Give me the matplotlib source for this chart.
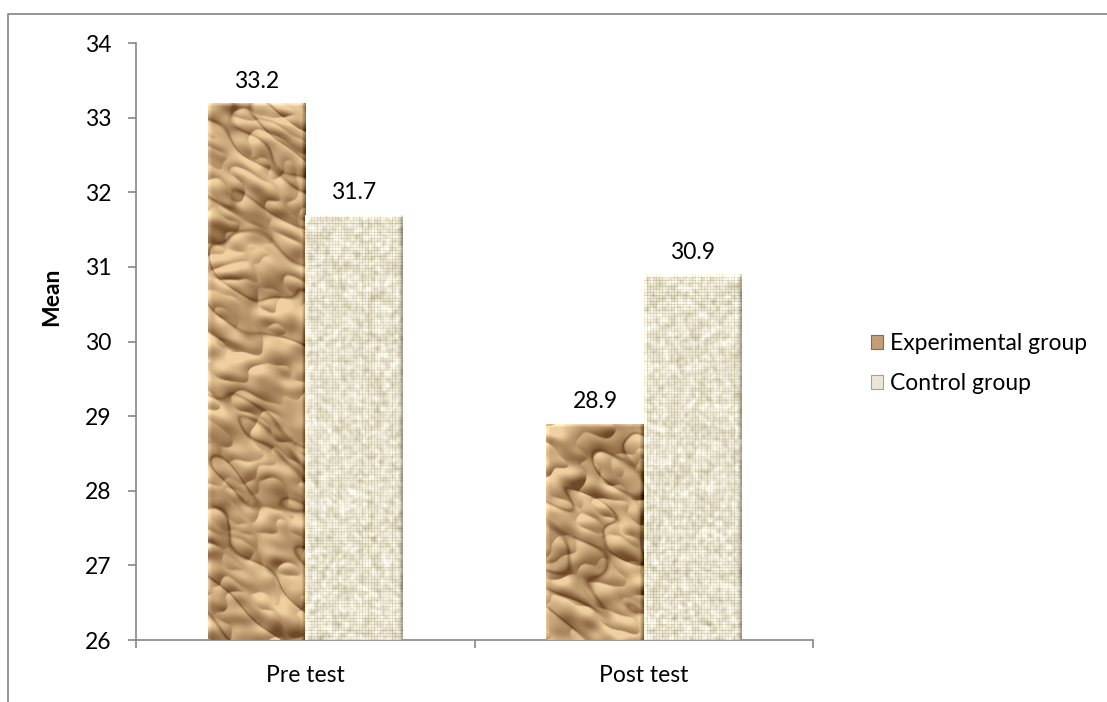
import matplotlib.pyplot as plt
import numpy as np
from matplotlib.lines import Line2D
from matplotlib.patches import Patch

categories = ["Pre test", "Post test"]
series_names = ["Experimental group", "Control group"]
experimental = [33.2, 28.9]
control = [31.7, 30.9]

Y_MIN, Y_MAX = 26, 34
AXIS_GRAY = "#868686"
FS = 16.5

plt.rcParams["font.family"] = ["Lato", "DejaVu Sans"]


def smooth_noise(h, w, scale, seed, stretch=1.0, angle=0.0):
    # gaussian-filtered white noise (optionally elongated along `angle`), normalised
    rng = np.random.default_rng(seed)
    n = rng.standard_normal((h, w))
    fy = np.fft.fftfreq(h)[:, None]
    fx = np.fft.fftfreq(w)[None, :]
    c, s = np.cos(angle), np.sin(angle)
    fu = fx * c + fy * s
    fv = -fx * s + fy * c
    filt = np.exp(-((fu * stretch) ** 2 + fv ** 2) * (2 * np.pi * scale) ** 2 / 2)
    out = np.real(np.fft.ifft2(np.fft.fft2(n) * filt))
    return (out - out.mean()) / out.std()


def bevel(img, w_edge=4):
    h, w, _ = img.shape
    xs = np.arange(w)[None, :]
    ys = np.arange(h)[:, None]
    light = np.zeros((h, w))
    light += np.where(xs < w_edge, 0.12 * (1 - xs / w_edge), 0)
    light -= np.where(xs > w - 1 - w_edge, 0.28 * (1 - (w - 1 - xs) / w_edge), 0)
    light += np.where(ys < w_edge, 0.22 * (1 - ys / w_edge), 0)
    img = img + light[..., None]
    return np.clip(img, 0, 1)


def paper_texture(h, w, seed):
    # crumpled brown paper: diagonal creases from folded noise, lit from the top left
    pad = 40
    H, W = h + 2 * pad, w + 2 * pad
    ang = np.deg2rad(35)
    crease = smooth_noise(H, W, 9, seed, stretch=2.2, angle=ang)
    height = (-1.0 * np.abs(crease)
              - 0.5 * np.abs(smooth_noise(H, W, 5, seed + 1, stretch=1.6, angle=ang))
              + 0.9 * smooth_noise(H, W, 26, seed + 2))
    gy, gx = np.gradient(height)
    shade = 0.64 + 3.2 * (-gx * 0.5 - gy * 0.85)
    shade -= 0.35 * np.exp(-(crease / 0.15) ** 2)
    shade = np.clip(shade, 0, 1)[pad:pad + h, pad:pad + w]
    dark = np.array([112, 74, 40]) / 255
    lite = np.array([240, 208, 160]) / 255
    img = dark + (lite - dark) * shade[..., None]
    return bevel(img)


def linen_texture(h, w, seed):
    # loose woven cloth: pale base with darker threads every few pixels
    rng = np.random.default_rng(seed)
    base = np.array([240, 235, 218]) / 255
    img = np.ones((h, w, 3)) * base
    rows = (np.arange(h) % 3 == 0)[:, None] * rng.uniform(0.03, 0.15, (h, 1))
    cols = (np.arange(w) % 3 == 0)[None, :] * rng.uniform(0.03, 0.15, (1, w))
    speck = 0.05 * smooth_noise(h, w, 1.5, seed + 5)
    tint = np.array([1.0, 1.05, 1.35])
    img = img - (rows + cols + speck)[..., None] * tint * 0.7
    return bevel(np.clip(img, 0, 1))


fig = plt.figure(figsize=(11.07, 7.02), dpi=100)
ax = fig.add_axes([0.1229, 0.0883, 0.6116, 0.8504])

x = np.arange(len(categories))
width = 0.288
textures = [paper_texture, linen_texture]
fallback = ["#c29f74", "#ece6d4"]

for s, values in enumerate([experimental, control]):
    offs = (s - 0.5) * width
    bars = ax.bar(x + offs, [v - Y_MIN for v in values], width, bottom=Y_MIN,
                  color=fallback[s], edgecolor="none", zorder=2)
    for i, (bar, v) in enumerate(zip(bars, values)):
        h_px = max(int((v - Y_MIN) * 75), 10)
        tex = textures[s](h_px, 98, seed=10 * s + i + 3)
        x0 = bar.get_x()
        im = ax.imshow(tex, extent=(x0, x0 + width, Y_MIN, v), aspect="auto",
                       interpolation="bilinear", zorder=3, origin="upper")
        im.set_clip_path(bar)
        ax.text(x0 + width / 2, v + 0.15, f"{v:.1f}", ha="center", va="bottom",
                fontsize=FS, color="black")

ax.set_xlim(-0.5, len(categories) - 0.5)
ax.set_ylim(Y_MIN, Y_MAX)
ax.set_yticks(range(Y_MIN, Y_MAX + 1))
ax.set_xticks(x)
ax.set_xticklabels(categories)
ax.set_xticks(np.arange(len(categories) + 1) - 0.5, minor=True)
ax.tick_params(axis="x", which="major", length=0, pad=18, labelsize=FS)
ax.tick_params(axis="x", which="minor", length=6, color=AXIS_GRAY, width=1.2)
ax.tick_params(axis="y", length=6, color=AXIS_GRAY, width=1.2, labelsize=FS, pad=12)
for side in ("top", "right"):
    ax.spines[side].set_visible(False)
for side in ("left", "bottom"):
    ax.spines[side].set_color(AXIS_GRAY)
    ax.spines[side].set_linewidth(1.2)
ax.set_ylabel("Mean", fontsize=FS, fontweight="bold", va="center")
ax.yaxis.set_label_coords(-0.124, 0.575)

handles = [Patch(facecolor=fallback[0], edgecolor="#8a6a48", linewidth=0.8),
           Patch(facecolor=fallback[1], edgecolor="#a9a290", linewidth=0.8)]
fig.legend(handles, series_names, loc="center left", bbox_to_anchor=(0.768, 0.482),
           frameon=False, fontsize=FS, handlelength=0.55, handleheight=0.55,
           handletextpad=0.3, labelspacing=0.85)

# outer chart border, cut off at the right and bottom
bx, by = 8 / 1107, 1 - 14 / 702
fig.add_artist(Line2D([bx, bx, 1.0], [0.0, by, by], transform=fig.transFigure,
                      color="#8c8c8c", linewidth=1.3))

fig.savefig("out.png", dpi=100)
